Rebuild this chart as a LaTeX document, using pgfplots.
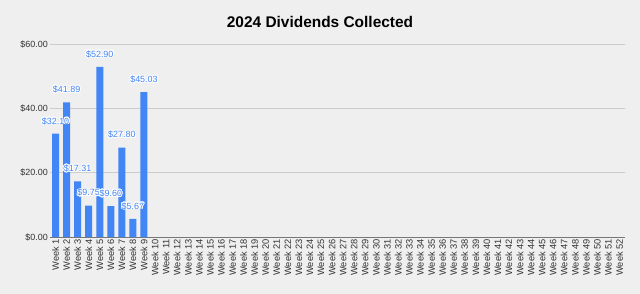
\documentclass[border=0pt]{standalone}
\usepackage{pgfplots}
\pgfplotsset{compat=1.18}
\usepackage{fontspec}
\setmainfont{Liberation Sans}
\usepackage{contour}
\contourlength{0.9pt}
\definecolor{bg}{HTML}{EFEFEF}
\definecolor{barblue}{HTML}{4285F4}
\definecolor{gridc}{HTML}{CCCCCC}
\definecolor{basec}{HTML}{777777}
\definecolor{tickc}{HTML}{333333}
\begin{document}
\begin{tikzpicture}
\fill[bg] (-50bp,-57bp) rectangle (590bp,237bp);
\begin{axis}[
  at={(0,0)}, anchor=south west,
  scale only axis, width=575bp, height=193bp,
  xmin=0.5, xmax=52.5, ymin=0, ymax=60,
  ytick={20,40,60},
  extra y ticks={0},
  extra y tick style={grid style={draw=basec, line width=0.9pt}},
  xtick={1,...,52},
  xticklabel={Week \pgfmathprintnumber{\tick}},
  yticklabel={\$\pgfmathprintnumber[fixed,fixed zerofill,precision=2]{\tick}},
  /pgf/number format/assume math mode=true,
  x tick label style={rotate=90, anchor=east, font=\fontsize{9.3}{10}\selectfont, text=tickc, inner sep=2bp},
  y tick label style={font=\fontsize{9}{10}\selectfont, text=tickc, inner sep=2bp},
  major tick length=0pt,
  ymajorgrids, grid style={draw=gridc, line width=0.6pt},
  axis line style={draw=none},
  ybar, bar width=7bp,
  nodes near coords={\contour{white}{\$\pgfmathprintnumber[fixed,fixed zerofill,precision=2]{\pgfplotspointmeta}}},
  nodes near coords style={text=barblue, font=\fontsize{9}{10}\selectfont, anchor=south, inner sep=0pt, yshift=8bp},
  clip=false,
]
\addplot[fill=barblue, draw=none] coordinates {
 (1,32.10) (2,41.89) (3,17.31) (4,9.75) (5,52.90) (6,9.60) (7,27.80) (8,5.67) (9,45.03)
};
\end{axis}
\node[font=\bfseries\fontsize{15.5}{17}\selectfont, text=black] at (270bp,215bp) {2024 Dividends Collected};
\pgfresetboundingbox
\path (-50bp,-57bp) rectangle (590bp,237bp);
\end{tikzpicture}
\end{document}
